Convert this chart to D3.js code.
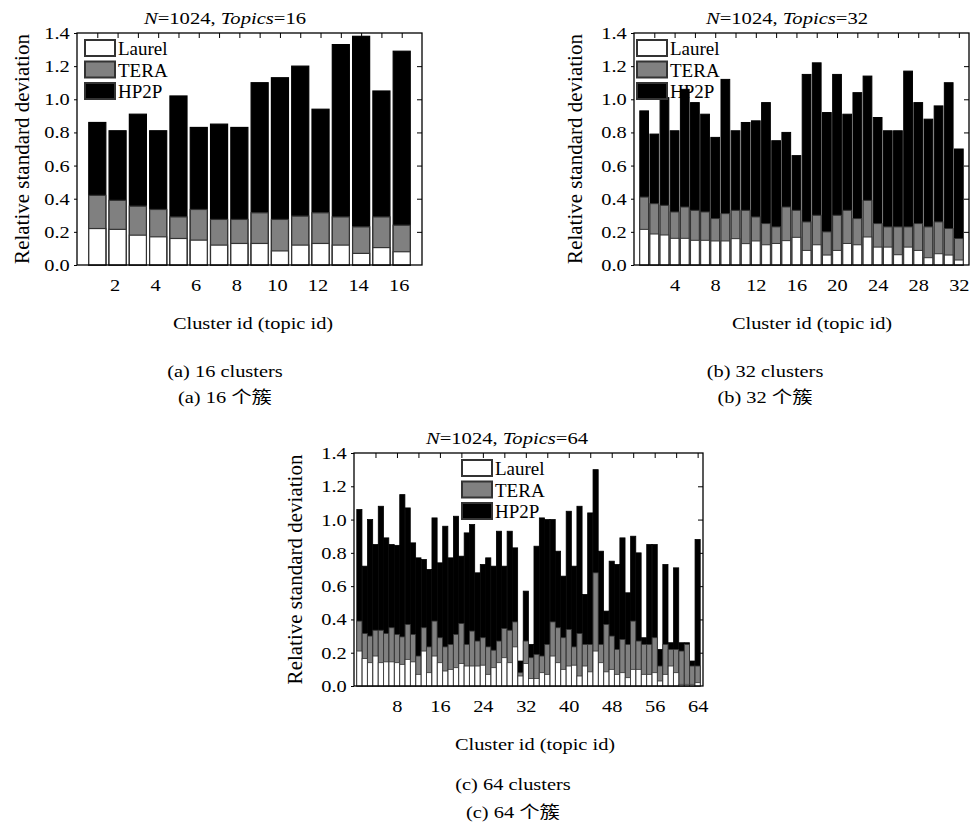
<!DOCTYPE html>
<html>
<head>
<meta charset="utf-8">
<style>
body { margin: 0; background: #fff; }
text { font-family: "Liberation Serif", "Times New Roman", "Noto Sans CJK SC", serif; fill: #000; }
</style>
</head>
<body>
<div id="chart"></div>
<script src="https://d3js.org/d3.v7.min.js"></script>
<script>
// values
var seriesNames = ["Laurel", "TERA", "HP2P"];
var yTicks = [0, 0.2, 0.4, 0.6, 0.8, 1.0, 1.2, 1.4];

var laurel16 = [0.22,0.215,0.18,0.17,0.16,0.15,0.12,0.13,0.13,0.085,0.12,0.13,0.12,0.07,0.105,0.08];
var tera16   = [0.42,0.39,0.355,0.335,0.29,0.335,0.275,0.275,0.315,0.275,0.295,0.315,0.29,0.23,0.29,0.24];
var hp2p16   = [0.86,0.81,0.91,0.81,1.02,0.83,0.85,0.83,1.10,1.13,1.20,0.94,1.33,1.38,1.05,1.29];

var laurel32 = [0.215,0.187,0.181,0.161,0.161,0.149,0.149,0.145,0.145,0.159,0.129,0.145,0.122,0.13,0.147,0.167,
                0.088,0.122,0.06,0.088,0.13,0.122,0.169,0.108,0.108,0.062,0.108,0.088,0.044,0.068,0.06,0.03];
var tera32   = [0.41,0.37,0.36,0.32,0.35,0.33,0.32,0.28,0.31,0.33,0.33,0.29,0.25,0.23,0.35,0.33,
                0.26,0.30,0.20,0.30,0.33,0.28,0.39,0.25,0.23,0.23,0.23,0.25,0.23,0.26,0.22,0.16];
var hp2p32   = [0.93,0.79,1.01,0.81,1.06,0.98,0.91,0.77,1.12,0.81,0.86,0.87,0.98,0.75,0.80,0.66,
                1.15,1.22,0.92,1.15,0.91,1.04,1.14,0.89,0.81,0.81,1.17,0.98,0.88,0.96,1.10,0.70];

var laurel64 = [0.21,0.165,0.14,0.18,0.14,0.145,0.145,0.14,0.13,0.16,
                0.145,0.07,0.21,0.08,0.18,0.14,0.09,0.10,0.11,0.135,
                0.12,0.12,0.12,0.125,0.07,0.11,0.14,0.17,0.14,0.235,
                0.06,0.135,0.045,0.045,0.08,0.07,0.18,0.14,0.10,0.12,
                0.125,0.06,0.12,0.085,0.21,0.14,0.085,0.10,0.07,0.08,
                0.05,0.10,0.10,0.07,0.07,0.08,0.03,0.07,0.12,0.08,
                0.01,0.01,0.01,0.02];
var tera64   = [0.39,0.315,0.30,0.335,0.335,0.315,0.35,0.31,0.295,0.37,
                0.31,0.18,0.35,0.235,0.39,0.29,0.235,0.25,0.31,0.375,
                0.25,0.33,0.27,0.29,0.235,0.215,0.27,0.345,0.335,0.385,
                0.08,0.27,0.17,0.19,0.18,0.25,0.385,0.35,0.29,0.34,
                0.235,0.315,0.25,0.25,0.68,0.25,0.37,0.30,0.22,0.28,
                0.25,0.39,0.27,0.25,0.25,0.29,0.12,0.25,0.22,0.22,
                0.21,0.25,0.12,0.12];
var hp2p64   = [1.06,0.72,1.00,0.85,1.08,0.89,0.85,0.845,1.15,1.07,
                0.86,0.77,0.76,0.70,1.01,0.74,0.96,0.77,1.02,0.78,
                0.92,0.97,0.68,0.73,0.77,0.72,0.93,0.72,0.93,0.83,
                0.15,0.57,0.25,0.84,1.01,1.00,1.00,0.81,0.66,1.05,
                0.72,1.08,0.55,1.04,1.30,0.81,0.45,0.75,0.73,0.89,
                0.56,0.90,0.80,0.29,0.85,0.85,0.22,0.73,0.26,0.71,
                0.26,0.26,0.15,0.88];

var fills = {"Laurel": "#ffffff", "TERA": "#808080", "HP2P": "#000000"};

var svg = d3.select("#chart").append("svg")
    .attr("width", 973)
    .attr("height", 823);

// wide text like the scanned figure
function wideText(g, x, y, size, anchor, sx) {
  return g.append("text")
    .attr("transform", "translate(" + x + "," + y + ") scale(" + sx + ",1)")
    .attr("text-anchor", anchor)
    .style("font-size", size + "px");
}

function drawPanel(p) {
  var n = p.hp2p.length;
  var x = d3.scaleLinear().domain([0, n + 1]).range([p.left, p.right]);
  var y = d3.scaleLinear().domain([0, 1.4]).range([p.bottom, p.top]);
  var bw = (x(1) - x(0)) * p.frac;
  var g = svg.append("g");

  var rows = d3.range(n).map(function(i) {
    return {id: i + 1, Laurel: p.laurel[i], TERA: p.tera[i], HP2P: p.hp2p[i]};
  });

  // overlaid bars, tallest series first
  ["HP2P", "TERA", "Laurel"].forEach(function(s) {
    g.selectAll(null)
      .data(rows)
      .enter()
      .append("rect")
        .attr("x", function(d) { return x(d.id) - bw / 2; })
        .attr("y", function(d) { return y(d[s]); })
        .attr("width", bw)
        .attr("height", function(d) { return y(0) - y(d[s]); })
        .attr("fill", fills[s])
        .attr("stroke", s == "HP2P" ? "#000" : "#333")
        .attr("stroke-width", p.sw);
  });

  // frame
  g.append("rect")
    .attr("x", p.left).attr("y", p.top)
    .attr("width", p.right - p.left).attr("height", p.bottom - p.top)
    .attr("fill", "none").attr("stroke", "#000").attr("stroke-width", 1.3);

  // left axis
  var ya = g.append("g")
    .attr("transform", "translate(" + p.left + ",0)")
    .call(d3.axisLeft(y).tickValues(yTicks).tickFormat(d3.format(".1f")).tickSize(3).tickPadding(3));
  ya.select(".domain").remove();
  ya.selectAll("text")
    .style("font-size", "17px")
    .attr("transform", "scale(1.2,1)");

  // right and top inner ticks
  var ra = g.append("g")
    .attr("transform", "translate(" + p.right + ",0)")
    .call(d3.axisRight(y).tickValues(yTicks.slice(1, -1)).tickSize(-5).tickFormat(""));
  ra.select(".domain").remove();
  var ta = g.append("g")
    .attr("transform", "translate(0," + p.top + ")")
    .call(d3.axisTop(x).tickValues(d3.range(p.topStep, n + 1, p.topStep)).tickSize(-5).tickFormat(""));
  ta.select(".domain").remove();

  // bottom labels
  var xa = g.append("g")
    .attr("transform", "translate(0," + p.bottom + ")")
    .call(d3.axisBottom(x).tickValues(d3.range(p.step, n + 1, p.step)).tickSize(0));
  xa.select(".domain").remove();
  xa.selectAll("text")
    .attr("y", 26).attr("dy", null).attr("dx", p.labelDx)
    .style("font-size", "17px")
    .attr("transform", "scale(1.2,1)");

  // title
  var t = wideText(g, p.titleX, p.top - 9, 16.5, "middle", 1.25);
  t.append("tspan").style("font-style", "italic").text("N");
  t.append("tspan").text("=1024, ");
  t.append("tspan").style("font-style", "italic").text("Topics");
  t.append("tspan").text("=" + n);

  // axis titles
  g.append("text")
    .attr("transform", "translate(" + p.yLabelX + "," + ((p.top + p.bottom) / 2) + ") rotate(-90)")
    .attr("text-anchor", "middle")
    .attr("dy", "0.35em")
    .style("font-size", "21px")
    .text("Relative standard deviation");
  wideText(g, p.xLabelX, p.bottom + 64, 17, "middle", 1.2).text("Cluster id (topic id)");

  // captions
  wideText(g, p.capX, p.cap1Y, 17, "middle", 1.2).text(p.cap1);
  wideText(g, p.capX, p.cap2Y, 17, "middle", 1.2).text(p.cap2);

  // legend
  seriesNames.forEach(function(s, i) {
    g.append("rect")
      .attr("x", p.left + p.legX)
      .attr("y", p.top + 7 + i * 21.5)
      .attr("width", 30).attr("height", 16)
      .attr("fill", fills[s])
      .attr("stroke", "#333").attr("stroke-width", 2);
    g.append("text")
      .attr("x", p.left + p.legX + 33)
      .attr("y", p.top + 22 + i * 21.5)
      .style("font-size", "19px")
      .text(s);
  });
}

drawPanel({laurel: laurel16, tera: tera16, hp2p: hp2p16,
  left: 77, right: 422, top: 33, bottom: 265, frac: 0.84, sw: 1.2,
  step: 2, topStep: 1, labelDx: "-0.15em", legX: 8,
  titleX: 225, yLabelX: 22, xLabelX: 253,
  capX: 225, cap1Y: 377, cap2Y: 403, cap1: "(a) 16 clusters", cap2: "(a) 16 个簇"});

drawPanel({laurel: laurel32, tera: tera32, hp2p: hp2p32,
  left: 634, right: 969, top: 33, bottom: 265, frac: 0.86, sw: 1,
  step: 4, topStep: 2, labelDx: "0", legX: 3,
  titleX: 787, yLabelX: 575, xLabelX: 812,
  capX: 765, cap1Y: 377, cap2Y: 403, cap1: "(b) 32 clusters", cap2: "(b) 32 个簇"});

drawPanel({laurel: laurel64, tera: tera64, hp2p: hp2p64,
  left: 354, right: 703, top: 453, bottom: 686, frac: 0.96, sw: 0.8,
  step: 8, topStep: 4, labelDx: "0", legX: 108,
  titleX: 507, yLabelX: 295, xLabelX: 535,
  capX: 513, cap1Y: 790, cap2Y: 818, cap1: "(c) 64 clusters", cap2: "(c) 64 个簇"});
</script>
</body>
</html>
